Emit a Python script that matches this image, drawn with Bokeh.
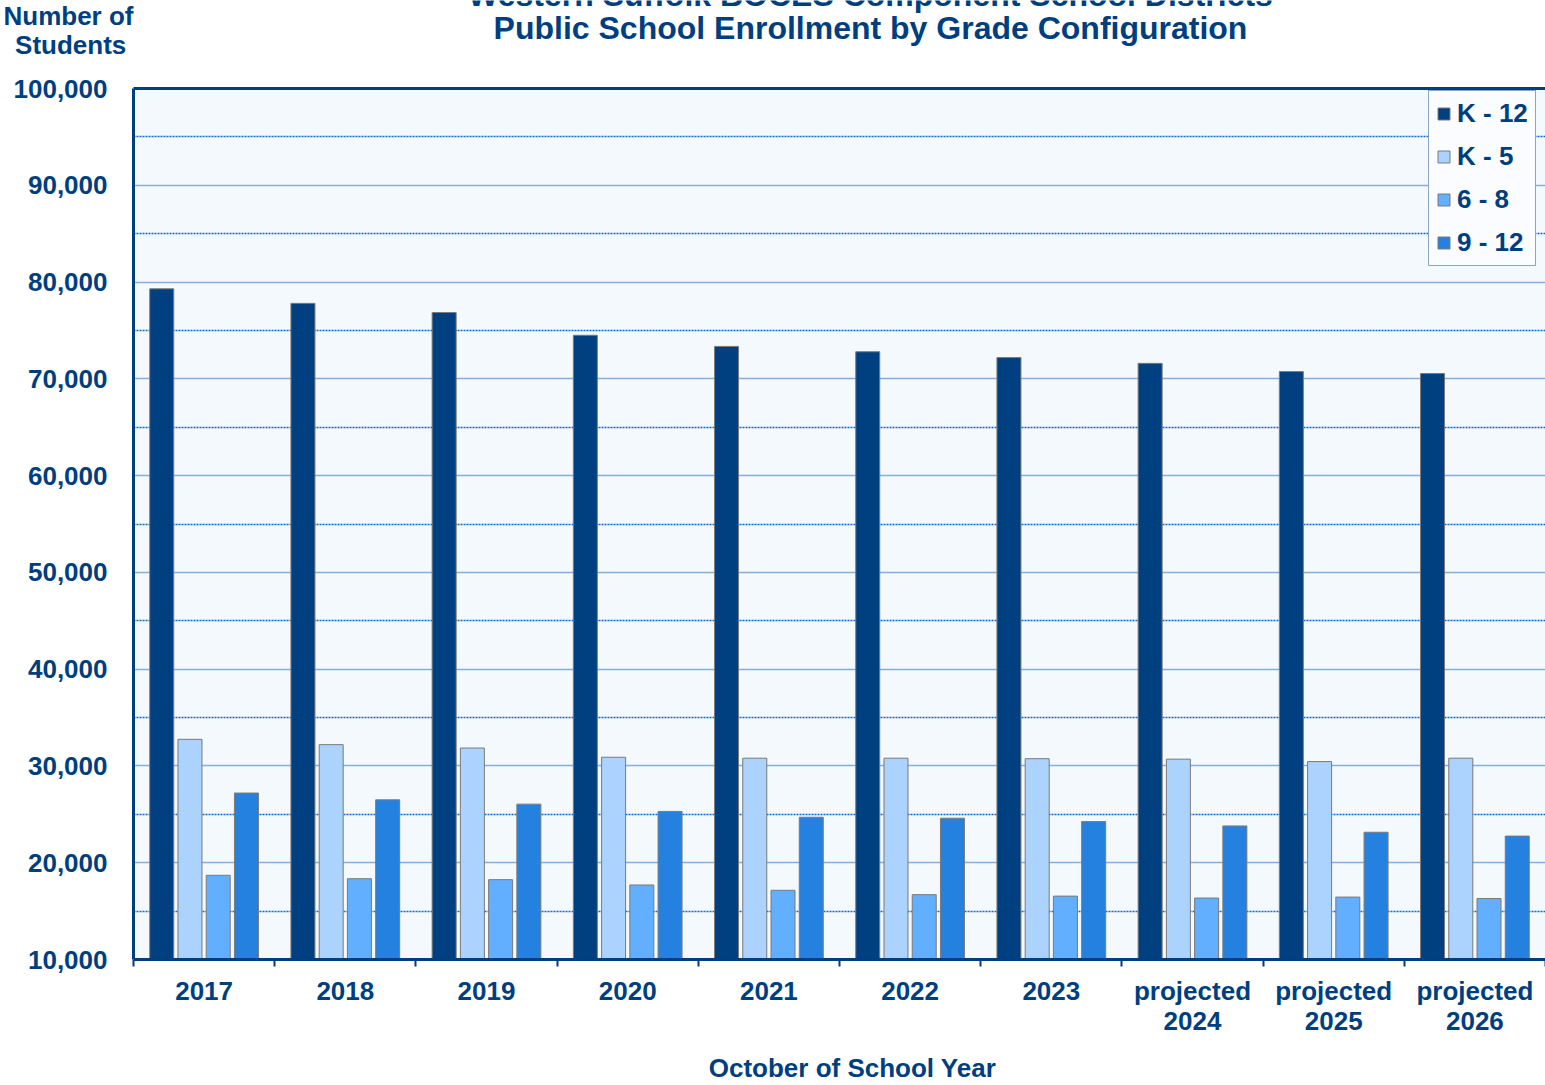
from bokeh.plotting import figure
from bokeh.models import (ColumnDataSource, FixedTicker, NumeralTickFormatter, LinearAxis,
                          Range1d, Legend, LegendItem)
from bokeh.layouts import column
from bokeh.transform import dodge
from bokeh.core.properties import value
from bokeh.embed import file_html
from bokeh.resources import INLINE

# ---------------- data ----------------
years = ["2017", "2018", "2019", "2020", "2021", "2022", "2023", "2024", "2025", "2026"]
year_labels = ["2017", "2018", "2019", "2020", "2021", "2022", "2023",
               "projected\n2024", "projected\n2025", "projected\n2026"]
series_names = ["K - 12", "K - 5", "6 - 8", "9 - 12"]
k12 = [79300, 77800, 76850, 74500, 73350, 72800, 72200, 71600, 70750, 70550]
k5 = [32750, 32200, 31850, 30900, 30800, 30800, 30750, 30700, 30450, 30800]
g68 = [18700, 18350, 18250, 17700, 17150, 16700, 16550, 16350, 16450, 16300]
g912 = [27200, 26500, 26050, 25300, 24700, 24600, 24250, 23800, 23150, 22750]
y_ticks = [10000, 20000, 30000, 40000, 50000, 60000, 70000, 80000, 90000, 100000]
y_minor = [15000, 25000, 35000, 45000, 55000, 65000, 75000, 85000, 95000]

title_line1 = "Western Suffolk BOCES Component School Districts"
title_line2 = "Public School Enrollment by Grade Configuration"
y_title = ["Number of", "Students\u00a0"]
x_title = "October of School Year"

# ---------------- styles ----------------
NAVY = "#003F7F"
FONT = "Liberation Sans"
colors = ["#003F80", "#ABD3FD", "#62AFFF", "#2581E0"]
W = 1545
LEFT = 133
HEAD_H = 66
MAIN_H = 979
FOOT_H = 40


def strip_fig(h):
    f = figure(width=W, height=h, x_range=Range1d(LEFT, W), y_range=Range1d(h, 0),
               x_axis_type=None, output_backend="svg", toolbar_location=None,
               min_border=0, min_border_left=LEFT, outline_line_color=None,
               background_fill_color="white", border_fill_color="white")
    f.grid.visible = False
    return f


def txt(f, x, y, text, size, baseline="middle"):
    f.text(x=[x], y=[y], text=[text], text_font=value(FONT), text_font_style=value("bold"),
           text_font_size=value(size), text_color=NAVY, text_align="center",
           text_baseline=baseline)


def style_labels(ax):
    ax.major_label_text_font = FONT
    ax.major_label_text_font_style = "bold"
    ax.major_label_text_font_size = "26px"
    ax.major_label_text_color = NAVY


# ---------------- header ----------------
header = strip_fig(HEAD_H)
txt(header, 870, -6, title_line1, "32px")
txt(header, 870, 27, title_line2, "32px")
hy = header.yaxis[0]
hy.ticker = FixedTicker(ticks=[13, 44])
hy.major_label_overrides = {13: y_title[0], 44: y_title[1]}
hy.axis_line_color = None
hy.major_tick_line_color = None
hy.minor_tick_line_color = None
hy.major_tick_out = 0
hy.major_label_standoff = 0
style_labels(hy)

# ---------------- main chart ----------------
pos = [i + 0.5 for i in range(len(years))]
src = ColumnDataSource(dict(pos=pos, year=years, k12=k12, k5=k5, g68=g68, g912=g912))

p = figure(width=W, height=MAIN_H, x_range=Range1d(0, len(years)), y_range=Range1d(10000, 100000),
           output_backend="svg", toolbar_location=None,
           min_border_left=LEFT, min_border_right=0, min_border_top=88 - HEAD_H,
           min_border_bottom=HEAD_H + MAIN_H - 959,
           background_fill_color="#F4F9FE", border_fill_color="white", outline_line_color=None)

fields = ["k12", "k5", "g68", "g912"]
offsets = [-0.3, -0.1, 0.1, 0.3]
renderers = []
for f, off, c in zip(fields, offsets, colors):
    r = p.vbar(x=dodge("pos", off, range=p.x_range), top=f, bottom=10000, width=0.17, source=src,
               fill_color=c, line_color="#7A7A7A", line_width=1)
    renderers.append(r)

p.xgrid.visible = False
yt = FixedTicker(ticks=y_ticks, minor_ticks=y_minor)
p.yaxis[0].ticker = yt
p.ygrid.ticker = yt
p.ygrid.grid_line_color = "#86AEDD"
p.ygrid.grid_line_width = 1.5
p.ygrid.minor_grid_line_color = "#0A6AD0"
p.ygrid.minor_grid_line_width = 1.5
p.ygrid.minor_grid_line_dash = "2 1"

ya = p.yaxis[0]
ya.formatter = NumeralTickFormatter(format="0,0")
ya.axis_line_color = NAVY
ya.axis_line_width = 3
ya.major_tick_line_color = None
ya.minor_tick_line_color = None
ya.major_tick_out = 0
ya.major_label_standoff = 22
style_labels(ya)

xa = p.xaxis[0]
xa.ticker = FixedTicker(ticks=pos, minor_ticks=list(range(len(years) + 1)))
xa.major_label_overrides = {pv: lab for pv, lab in zip(pos, year_labels)}
xa.axis_line_color = NAVY
xa.axis_line_width = 3
xa.major_tick_line_color = None
xa.major_tick_out = 0
xa.major_tick_in = 0
xa.minor_tick_line_color = NAVY
xa.minor_tick_line_width = 2
xa.minor_tick_out = 7
xa.minor_tick_in = 0
xa.major_label_standoff = 9
xa.major_label_text_line_height = 1.0
style_labels(xa)

top_ax = LinearAxis(ticker=FixedTicker(ticks=[]), axis_line_color=NAVY, axis_line_width=3,
                    major_tick_line_color=None, minor_tick_line_color=None,
                    major_label_text_font_size="0px")
p.add_layout(top_ax, "above")

items = [LegendItem(label=n, renderers=[r]) for n, r in zip(series_names, renderers)]
legend = Legend(items=items, location=(1295, 693), orientation="vertical",
                label_text_font=FONT, label_text_font_style="bold", label_text_font_size="26px",
                label_text_color=NAVY, label_height=30, label_standoff=6,
                glyph_width=15, glyph_height=15, spacing=12, padding=7, margin=0,
                border_line_color="#1F4E8C", border_line_width=1,
                background_fill_color="#FAFCFF", background_fill_alpha=1.0)
p.add_layout(legend, "center")

# ---------------- footer ----------------
footer = strip_fig(FOOT_H)
footer.yaxis.visible = False
txt(footer, 852, 1067 - (HEAD_H + MAIN_H), x_title, "26px")

layout = column(header, p, footer, spacing=0)
open("out.html", "w").write(file_html(layout, INLINE))
